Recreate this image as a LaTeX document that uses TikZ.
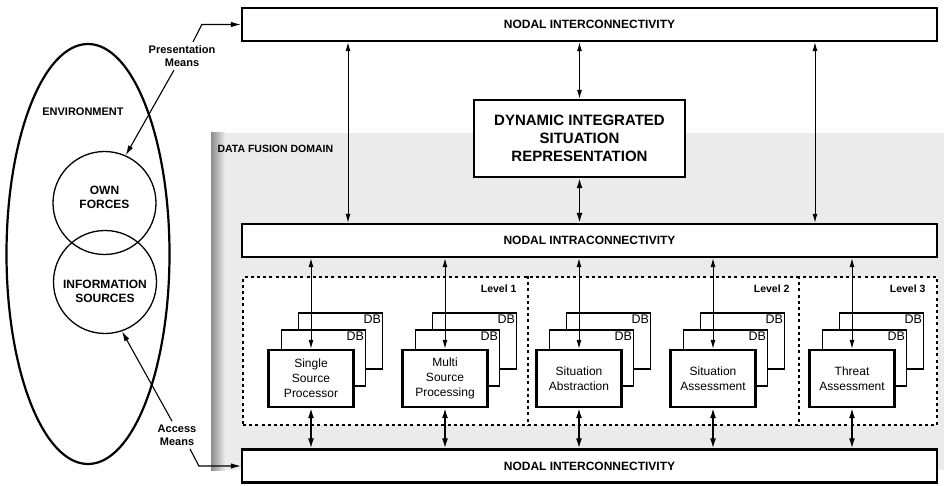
\documentclass[tikz,border=0pt]{standalone}
\usepackage{fontspec}
\setmainfont{Liberation Sans}
\usepackage{tikz}
\usetikzlibrary{shapes.geometric,arrows.meta}
\tikzstyle{bar} = [rectangle, draw, fill=white, line width=2.3pt,
    minimum width=695pt, minimum height=33pt, font=\bfseries\fontsize{12}{14}\selectfont]
\tikzstyle{sitrep} = [rectangle, draw, fill=white, line width=2.4pt, align=center,
    minimum width=211pt, minimum height=77pt, font=\bfseries\fontsize{15}{18}\selectfont]
\tikzstyle{proc} = [rectangle, draw, fill=white, line width=2.3pt, align=center,
    inner sep=1pt, minimum width=85pt, minimum height=57pt, font=\fontsize{12}{15}\selectfont]
\tikzstyle{dbbox} = [rectangle, draw, fill=white, line width=1.3pt,
    minimum width=84pt, minimum height=56pt,
    label={[anchor=north east, inner sep=2pt, font=\fontsize{12.5}{14}\selectfont]north east:DB}]
\tikzstyle{world} = [circle, draw, line width=1.3pt, minimum size=103pt]
\tikzstyle{tag} = [font=\bfseries\fontsize{11}{13}\selectfont, align=center]
\tikzstyle{bigtag} = [font=\bfseries\fontsize{12}{14}\selectfont, align=center]
\tikzstyle{levtag} = [font=\bfseries\fontsize{10.5}{12}\selectfont, anchor=east]
\tikzstyle{dotted box} = [draw, line width=2pt, dash pattern=on 3pt off 3.2pt]
\tikzstyle{arrow} = [draw, {Latex[length=9pt,width=5pt]}-{Latex[length=9pt,width=5pt]}, line width=1pt]
\tikzstyle{thickarrow} = [draw, {Latex[length=10pt,width=6pt]}-{Latex[length=10pt,width=6pt]}, line width=1.6pt]
\tikzstyle{means} = [draw, -{Latex[length=10pt,width=5.5pt]}, line width=1.1pt]

\begin{document}
\begin{tikzpicture}[x=1pt, y=-1pt]
	\useasboundingbox (0,0) rectangle (944,486);

	% Data fusion domain background
	\fill [black!8] (211,133) rectangle (944,470);
	\fill [left color=black!45, right color=black!8] (211,133) rectangle (225,470);
	\node [tag, anchor=west, font=\bfseries\fontsize{10.5}{12}\selectfont] (dfd) at (214,149) {DATA FUSION DOMAIN};

	% Levels
	\node [dotted box, fill=white, minimum width=694pt, minimum height=148pt] (levels) at (590,351) {};
	\path [dotted box] ([xshift=-62pt]levels.north) -- ([xshift=-62pt]levels.south);
	\path [dotted box] ([xshift=209pt]levels.north) -- ([xshift=209pt]levels.south);
	\node [levtag] (lev1) at (520,289) {Level 1};
	\node [levtag] (lev2) at (793,289) {Level 2};
	\node [levtag] (lev3) at (929,289) {Level 3};

	% Place nodes
	\node [bar] (top) at (589.5,24.5) {NODAL INTERCONNECTIVITY};
	\node [bar] (intra) at (589.5,240.5) {NODAL INTRACONNECTIVITY};
	\node [bar] (bot) at (589.5,466) {NODAL INTERCONNECTIVITY};
	\node [sitrep] (disr) at (579.5,138.5) {DYNAMIC INTEGRATED\\SITUATION\\REPRESENTATION};

	\node [dbbox] (spdb2) at (340.5,341) {};
	\node [dbbox] (spdb1) at (323.5,358) {};
	\node [proc] (sp) at (311,378.5) {Single\\Source\\Processor};

	\node [dbbox] (mspdb2) at (474.5,341) {};
	\node [dbbox] (mspdb1) at (457.5,358) {};
	\node [proc] (msp) at (445,378.5) {Multi\\Source\\Processing};

	\node [dbbox] (sabdb2) at (608.5,341) {};
	\node [dbbox] (sabdb1) at (591.5,358) {};
	\node [proc] (sab) at (579,378.5) {Situation\\Abstraction};

	\node [dbbox] (sasdb2) at (742.5,341) {};
	\node [dbbox] (sasdb1) at (725.5,358) {};
	\node [proc] (sas) at (713,378.5) {Situation\\Assessment};

	\node [dbbox] (tadb2) at (881.5,341) {};
	\node [dbbox] (tadb1) at (864.5,358) {};
	\node [proc] (ta) at (852,378.5) {Threat\\Assessment};

	% Environment
	\node [draw, ellipse, line width=2.2pt, minimum width=163pt, minimum height=420pt] (env) at (88,254) {};
	\node [tag] (envtag) at (83,112) {ENVIRONMENT};
	\node [world, label={[bigtag, yshift=6pt]center:{OWN\\FORCES}}] (own) at (104.5,203) {};
	\node [world, label={[bigtag, yshift=-9pt]center:{INFORMATION\\SOURCES}}] (info) at (105,282) {};
	\node [tag] (pres) at (182,56) {Presentation\\Means};
	\node [tag] (acc) at (177,435) {Access\\Means};

	% Draw edges
	\path [arrow] ([xshift=-241.5pt]top.south) -- ([xshift=-241.5pt]intra.north);
	\path [arrow] ([xshift=225.5pt]top.south) -- ([xshift=225.5pt]intra.north);
	\path [arrow] (disr.north |- top.south) -- (disr.north);
	\path [thickarrow] (disr.south) -- (disr.south |- intra.north);

	\path [arrow] (sp.north |- intra.south) -- (sp.north);
	\path [arrow] (msp.north |- intra.south) -- (msp.north);
	\path [arrow] (sab.north |- intra.south) -- (sab.north);
	\path [arrow] (sas.north |- intra.south) -- (sas.north);
	\path [arrow] (ta.north |- intra.south) -- (ta.north);

	\path [thickarrow] (sp.south) -- (sp.south |- bot.north);
	\path [thickarrow] (msp.south) -- (msp.south |- bot.north);
	\path [thickarrow] (sab.south) -- (sab.south |- bot.north);
	\path [thickarrow] (sas.south) -- (sas.south |- bot.north);
	\path [thickarrow] (ta.south) -- (ta.south |- bot.north);

	\path [means] ([xshift=11pt]pres.north) -- ([xshift=-39pt]top.west) -- (top.west);
	\path [means] ([xshift=-8pt]pres.south) -- (own.66);
	\path [means] ([xshift=-5pt]acc.north) -- (info.-71);
	\path [means] ([xshift=13pt]acc.south) -- ([xshift=-42pt]bot.west) -- (bot.west);
\end{tikzpicture}
\end{document}
